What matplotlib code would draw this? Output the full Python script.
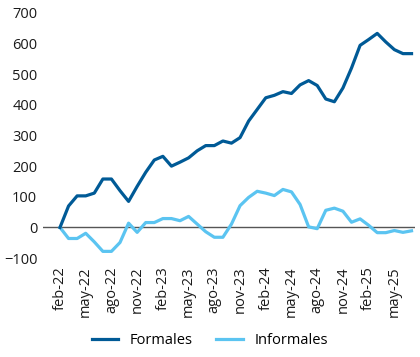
import matplotlib.pyplot as plt
import numpy as np

plt.rcParams['font.family'] = ['Open Sans', 'DejaVu Sans']

# feb-22 .. jul-25, monthly
months = ['feb-22', 'mar-22', 'abr-22', 'may-22', 'jun-22', 'jul-22', 'ago-22', 'sep-22', 'oct-22',
          'nov-22', 'dic-22', 'ene-23', 'feb-23', 'mar-23', 'abr-23', 'may-23', 'jun-23', 'jul-23',
          'ago-23', 'sep-23', 'oct-23', 'nov-23', 'dic-23', 'ene-24', 'feb-24', 'mar-24', 'abr-24',
          'may-24', 'jun-24', 'jul-24', 'ago-24', 'sep-24', 'oct-24', 'nov-24', 'dic-24', 'ene-25',
          'feb-25', 'mar-25', 'abr-25', 'may-25', 'jun-25', 'jul-25']

formales = [0, 70, 103, 103, 112, 158, 158, 120, 85, 134, 180, 220, 232, 200, 213, 227, 250, 267,
            267, 282, 275, 293, 347, 385, 423, 431, 443, 437, 465, 479, 463, 419, 410, 455, 520,
            594, 613, 633, 605, 580, 567, 567]

informales = [0, -36, -36, -19, -47, -78, -78, -49, 14, -16, 16, 16, 29, 29, 22, 36, 11, -14,
              -32, -32, 11, 71, 98, 118, 112, 104, 124, 116, 75, 2, -4, 56, 63, 53, 17, 28,
              7, -17, -17, -10, -16, -11]

x = np.arange(len(months))

fig = plt.figure(figsize=(4.2, 3.57), dpi=100)
ax = fig.add_axes([0.102, 0.277, 0.886, 0.687])

ax.axhline(0, color='#555555', lw=1.0, zorder=1)
ax.plot(x, formales, color='#005a96', lw=2.3, label='Formales', zorder=3)
ax.plot(x, informales, color='#5bc4f1', lw=2.3, label='Informales', zorder=2)

ax.set_ylim(-100, 700)
ax.set_yticks(range(-100, 701, 100))
ax.set_xlim(-2, 41.4)
ax.set_xticks(x[::3])
ax.set_xticklabels(months[::3], rotation=90)

for s in ax.spines.values():
    s.set_visible(False)
ax.tick_params(axis='both', length=0, labelsize=10.5, colors='#1a1a1a')
ax.tick_params(axis='y', pad=4)
ax.tick_params(axis='x', pad=6)

fig.legend(loc='lower center', ncol=2, frameon=False, fontsize=10.5,
           bbox_to_anchor=(0.5, -0.012), handlelength=1.8, columnspacing=1.6)

fig.savefig('out.png', dpi=100)
